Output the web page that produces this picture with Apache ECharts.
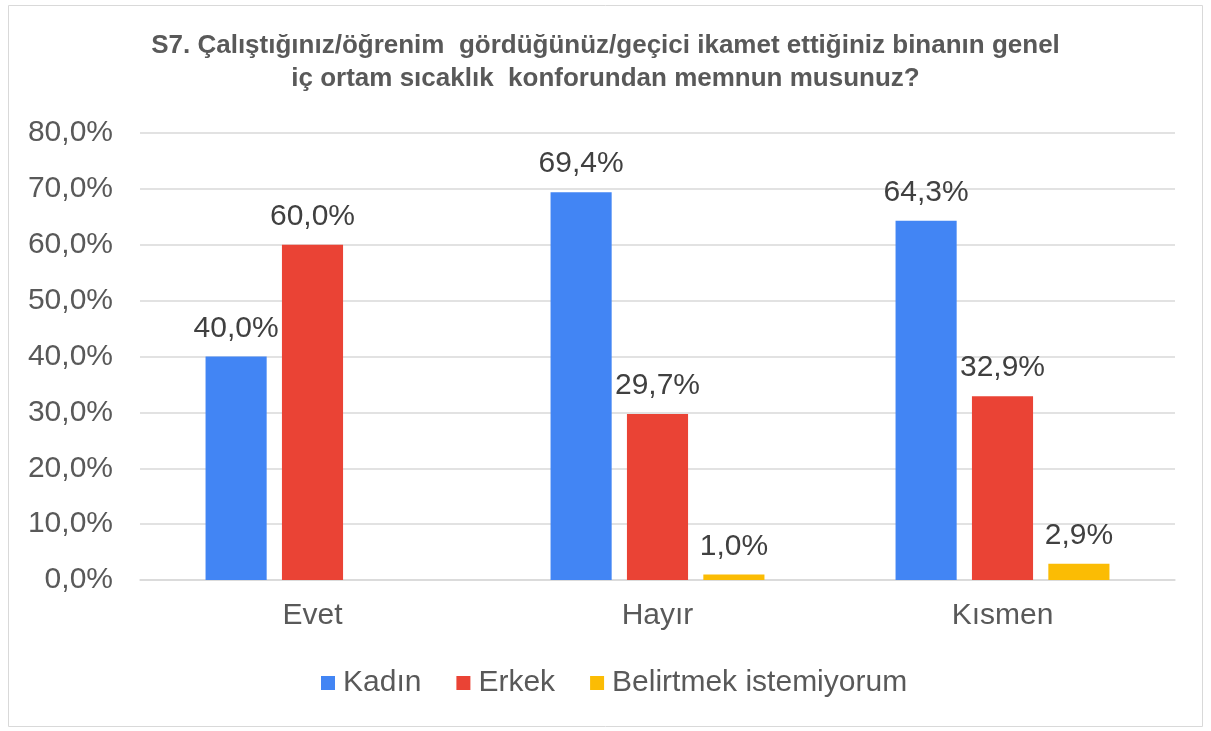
<!DOCTYPE html>
<html>
<head>
<meta charset="utf-8">
<script src="https://cdn.jsdelivr.net/npm/echarts@6/dist/echarts.min.js"></script>
<style>
  html, body { margin: 0; padding: 0; background: #fff; }
  #main { width: 1211px; height: 731px; }
</style>
</head>
<body>
<div id="main"></div>
<script>
var categories = ['Evet', 'Hayır', 'Kısmen'];
var seriesNames = ['Kadın', 'Erkek', 'Belirtmek istemiyorum'];
var kadin = [40.0, 69.4, 64.3];
var erkek = [60.0, 29.7, 32.9];
var belirtmek = [null, 1.0, 2.9];
var colors = ['#4285F4', '#EA4335', '#FBBC04'];

var FONT = 'Liberation Sans, Arial, sans-serif';

function fmt(v) {
  return v.toFixed(1).replace('.', ',') + '%';
}

var chart = echarts.init(document.getElementById('main'));

function makeSeries(name, data) {
  return {
    name: name,
    type: 'bar',
    data: data,
    barGap: '25%',
    barCategoryGap: '38%',
    label: {
      show: true,
      position: 'top',
      distance: 13,
      color: '#404040',
      fontSize: 30,
      fontFamily: FONT,
      formatter: function (p) { return p.value == null ? '' : fmt(p.value); }
    }
  };
}

var option = {
  color: colors,
  animation: false,
  title: {
    text: 'S7. Çalıştığınız/öğrenim  gördüğünüz/geçici ikamet ettiğiniz binanın genel\niç ortam sıcaklık  konforundan memnun musunuz?',
    left: 'center',
    top: 24,
    textStyle: {
      color: '#595959',
      fontSize: 26,
      fontWeight: 'bold',
      lineHeight: 33,
      fontFamily: FONT
    }
  },
  legend: {
    data: seriesNames,
    top: 668,
    left: 321,
    padding: 0,
    itemWidth: 14,
    itemHeight: 14,
    itemGap: 35,
    icon: 'rect',
    textStyle: {
      color: '#595959',
      fontSize: 30,
      fontFamily: FONT,
      padding: [0, 0, 0, 3]
    }
  },
  grid: {
    left: 140,
    right: 36,
    top: 133,
    bottom: 151
  },
  xAxis: {
    type: 'category',
    data: categories,
    axisTick: { show: false },
    axisLine: { lineStyle: { color: '#d9d9d9', width: 1.5 } },
    axisLabel: {
      color: '#595959',
      fontSize: 30,
      margin: 21,
      fontFamily: FONT
    }
  },
  yAxis: {
    type: 'value',
    min: 0,
    max: 80,
    interval: 10,
    axisLine: { show: false },
    axisTick: { show: false },
    splitLine: { lineStyle: { color: '#d9d9d9', width: 1.5 } },
    axisLabel: {
      color: '#595959',
      fontSize: 30,
      margin: 27,
      fontFamily: FONT,
      formatter: function (v) { return fmt(v); }
    }
  },
  graphic: [{
    type: 'rect',
    shape: { x: 8.5, y: 5.5, width: 1194, height: 721 },
    style: { fill: 'none', stroke: '#d9d9d9', lineWidth: 1 },
    silent: true
  }],
  series: [
    makeSeries(seriesNames[0], kadin),
    makeSeries(seriesNames[1], erkek),
    makeSeries(seriesNames[2], belirtmek)
  ]
};

chart.setOption(option);
</script>
</body>
</html>
